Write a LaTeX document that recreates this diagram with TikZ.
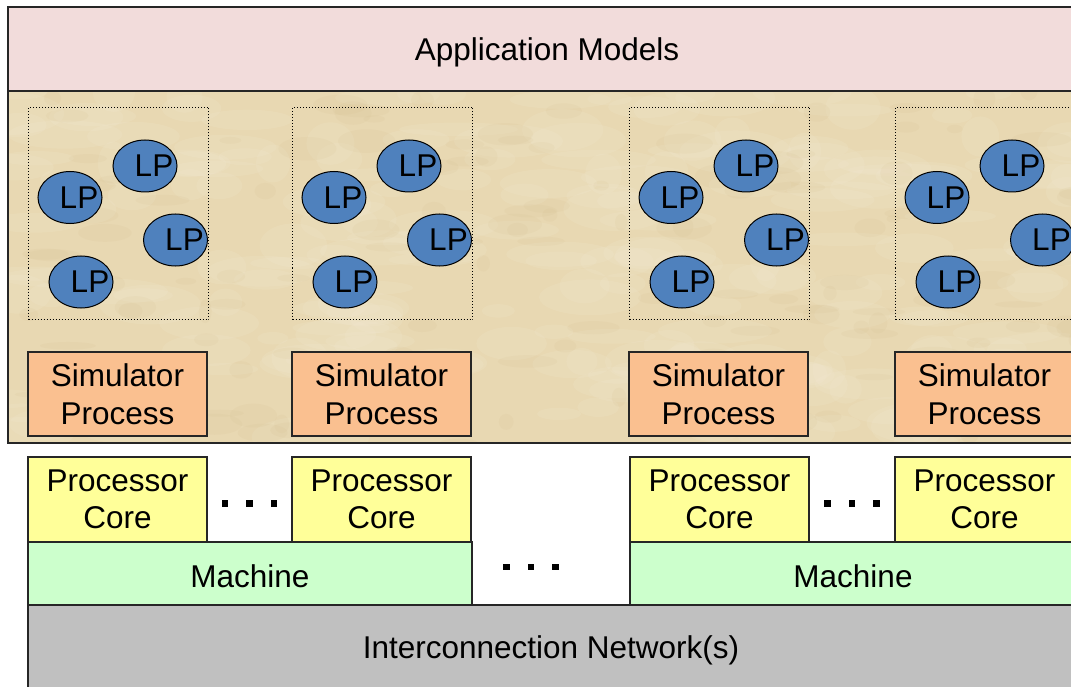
\documentclass[tikz,border=0pt]{standalone}
\usepackage{fontspec}
\setmainfont{Liberation Sans}
\usetikzlibrary{shapes.geometric}

\definecolor{appfill}{HTML}{F2DCDB}
\definecolor{parch}{HTML}{E8D8B2}
\definecolor{parchlight}{HTML}{F4EBD6}
\definecolor{parchdark}{HTML}{D0B886}
\definecolor{simfill}{HTML}{FAC090}
\definecolor{corefill}{HTML}{FFFF99}
\definecolor{machfill}{HTML}{CCFFCC}
\definecolor{netfill}{HTML}{C0C0C0}
\definecolor{lpfill}{HTML}{4F81BD}
\definecolor{edge}{HTML}{262626}

% the LP label sits a little right of the ellipse centre
\newcommand{\lptext}{\makebox[0pt]{\hspace*{18pt}LP}}

\tikzset{
  label/.style={font=\fontsize{31.5}{37.5}\selectfont, text=black, align=center},
  layer/.style={rectangle, draw=edge, line width=1.6pt, inner sep=0pt, outer sep=0pt, anchor=north west, label},
  groupbox/.style={rectangle, draw=black, dotted, line width=1pt, inner sep=0pt, anchor=north west,
    minimum width=180pt, minimum height=212pt},
  simbox/.style={layer, fill=simfill, minimum width=179pt, minimum height=84pt},
  corebox/.style={layer, fill=corefill, minimum width=179pt, minimum height=85pt},
  lp/.style={ellipse, draw=black, line width=1pt, fill=lpfill, minimum width=64pt, minimum height=52pt,
    inner sep=0pt, label},
  dot/.style={rectangle, fill=black, minimum size=6.5pt, inner sep=0pt}
}

\begin{document}
\begin{tikzpicture}[x=1pt, y=-1pt]
  \useasboundingbox (0,0) rectangle (1071,687);

  % application layer
  \node[layer, fill=appfill, minimum width=1080pt, minimum height=84pt] (app) at (8,7) {};
  \node[label] (apptext) at (547,52) {Application Models};

  % parchment-textured simulator layer
  \fill[parch] (8,91) rectangle (1085,443);
  \begin{scope}
    \clip (8,91) rectangle (1085,443);
    \pgfmathsetseed{11}
    \foreach \i in {1,...,220}{
      \pgfmathsetmacro{\px}{8+rnd*1075}
      \pgfmathsetmacro{\py}{91+rnd*352}
      \pgfmathsetmacro{\rx}{15+rnd*45}
      \pgfmathsetmacro{\ry}{6+rnd*16}
      \fill[parchlight, opacity=0.16] (\px,\py) ellipse [x radius=\rx, y radius=\ry];
    }
    \foreach \i in {1,...,140}{
      \pgfmathsetmacro{\px}{8+rnd*1075}
      \pgfmathsetmacro{\py}{91+rnd*352}
      \pgfmathsetmacro{\rx}{6+rnd*24}
      \pgfmathsetmacro{\ry}{3+rnd*9}
      \fill[parchdark, opacity=0.10] (\px,\py) ellipse [x radius=\rx, y radius=\ry];
    }
  \end{scope}
  \draw[edge, line width=1.6pt] (1085,91) -- (8,91) -- (8,443) -- (1085,443);

  % simulator groups: logical processes and their simulator process
  \foreach \g/\dx in {1/0, 2/264, 3/601, 4/867}{
    \node[groupbox] (grp\g) at (28+\dx,107) {};
    \node[lp] (lpA\g) at (145+\dx,166) {\lptext};
    \node[lp] (lpB\g) at (70+\dx,197.5) {\lptext};
    \node[lp] (lpC\g) at (175.5+\dx,240) {\lptext};
    \node[lp] (lpD\g) at (81+\dx,282) {\lptext};
    \node[simbox] (sim\g) at (28+\dx,352) {Simulator\\Process};
  }

  % hardware: processor cores on machines
  \node[corebox] (core1) at (28,457) {Processor\\Core};
  \node[corebox] (core2) at (292,457) {Processor\\Core};
  \node[corebox] (core3) at (630,457) {Processor\\Core};
  \node[corebox] (core4) at (895,457) {Processor\\Core};

  \node[layer, fill=machfill, minimum width=444pt, minimum height=63pt] (mach1) at (28,542) {};
  \node[label] (mach1text) at (250,576) {Machine};
  \node[layer, fill=machfill, minimum width=460pt, minimum height=63pt] (mach2) at (630,542) {};
  \node[label] (mach2text) at (853,576) {Machine};

  % interconnection network
  \node[layer, fill=netfill, minimum width=1060pt, minimum height=100pt] (net) at (28,605) {};
  \node[label] (nettext) at (551,650) {Interconnection Network(s)};

  % ellipsis marks
  \foreach \n/\cx/\cy in {a/249.5/503.5, b/852/503.5, c/531/567}{
    \node[dot] (\n1) at (\cx-24.5,\cy) {};
    \node[dot] (\n2) at (\cx,\cy) {};
    \node[dot] (\n3) at (\cx+24.5,\cy) {};
  }
\end{tikzpicture}
\end{document}
